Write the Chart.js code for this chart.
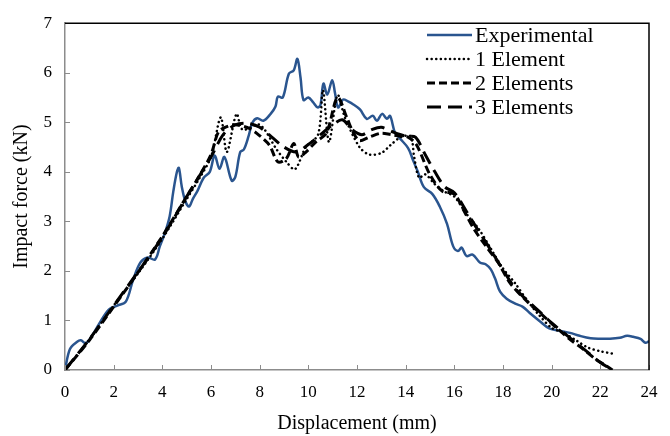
<!DOCTYPE html>
<html>
<head>
<meta charset="utf-8">
<script src="https://cdn.jsdelivr.net/npm/chart.js@4"></script>
<style>
  html, body { margin: 0; padding: 0; background: #fff; }
  #wrap { width: 670px; height: 436px; }
</style>
</head>
<body>
<div id="wrap"><canvas id="grafico"></canvas></div>
<script>
// displacement (mm) / impact force (kN)
const expX = [0,0.2,0.5,0.65,0.85,1.1,1.4,1.8,2.15,2.5,2.8,3.1,3.4,3.7,3.9,4.1,4.3,4.45,4.6,4.68,4.8,4.95,5.1,5.25,5.45,5.7,5.95,6.15,6.35,6.55,6.85,7.0,7.2,7.35,7.55,7.7,7.9,8.15,8.45,8.65,8.75,8.95,9.2,9.4,9.55,9.68,9.8,10.0,10.2,10.38,10.5,10.62,10.78,10.98,11.1,11.22,11.43,11.63,11.85,12.12,12.4,12.65,12.82,13.03,13.23,13.36,13.56,13.77,14.1,14.3,14.5,14.75,15.1,15.4,15.7,15.95,16.15,16.3,16.5,16.75,17.05,17.3,17.5,17.68,17.88,18.15,18.5,18.8,19.1,19.5,19.9,20.35,20.75,21.15,21.6,22.0,22.4,22.8,23.1,23.35,23.65,23.85,24];
const expY = [0,0.42,0.57,0.6,0.54,0.68,0.93,1.22,1.3,1.38,1.82,2.17,2.27,2.23,2.5,2.76,3.1,3.6,4.0,4.08,3.7,3.4,3.3,3.45,3.62,3.88,4.0,4.33,4.06,4.3,3.82,3.9,4.4,4.45,4.73,4.99,5.08,5.03,5.17,5.32,5.52,5.5,5.98,6.05,6.28,5.9,5.45,5.5,5.4,5.3,5.35,5.78,5.56,5.85,5.58,5.3,5.46,5.42,5.36,5.26,5.07,5.13,5.03,5.17,5.07,5.13,4.79,4.67,4.48,4.24,4.0,3.69,3.55,3.3,2.95,2.5,2.4,2.47,2.3,2.33,2.17,2.13,2.03,1.84,1.58,1.44,1.34,1.28,1.15,0.99,0.84,0.79,0.75,0.69,0.64,0.63,0.63,0.65,0.69,0.67,0.63,0.55,0.58];

const e1X = [0,1,2,3,4,5,5.5,6,6.4,6.65,7.05,7.3,8,8.7,9.1,9.45,9.9,10.4,10.6,10.85,11.2,11.5,12.1,12.5,13,13.4,13.8,14.2,14.35,14.55,14.8,15.2,15.6,16,16.5,17,17.5,18,18.5,19,19.5,20,20.5,21,21.5,22,22.5];
const e1Y = [0,0.62,1.3,1.95,2.65,3.45,3.85,4.3,5.1,4.4,5.17,4.85,4.95,4.45,4.2,4.05,4.5,4.75,5.65,4.6,5.55,5.1,4.5,4.35,4.38,4.55,4.7,4.72,4.3,3.88,3.95,3.75,3.6,3.5,3.15,2.85,2.45,2.05,1.75,1.4,1.1,0.85,0.75,0.6,0.45,0.38,0.33];

const e2X = [0,1,2,3,4,5,5.5,6,6.3,6.6,7,7.6,8,8.4,8.75,9.1,9.4,9.6,9.9,10.3,10.75,11.2,11.6,11.85,12.1,12.5,13,13.4,13.8,14.1,14.45,15,15.5,16,16.4,16.8,17.3,17.8,18.3,19,19.6,20.2,20.8,21.3,21.8,22.2,22.5];
const e2Y = [0,0.6,1.28,1.97,2.7,3.5,3.9,4.35,4.8,4.9,4.95,4.87,4.73,4.54,4.2,4.27,4.57,4.3,4.4,4.6,4.79,5.5,5.07,4.79,4.63,4.7,4.78,4.75,4.72,4.7,4.54,3.94,3.61,3.55,3.21,2.85,2.5,2.17,1.75,1.38,1.12,0.85,0.6,0.42,0.22,0.1,0.0];

const e3X = [0,1,2,3,4,5,6,6.5,7,7.5,8,8.5,9,9.5,10,10.5,11,11.4,11.8,12.2,12.6,13,13.5,14,14.4,14.8,15.2,15.6,16,16.5,17,17.5,18,18.5,19,19.5,20,20.5,21,21.5,22,22.5];
const e3Y = [0,0.62,1.3,1.98,2.68,3.5,4.3,4.75,4.95,4.98,4.9,4.7,4.5,4.4,4.55,4.75,4.95,5.05,4.85,4.75,4.85,4.9,4.8,4.72,4.7,4.35,4.0,3.7,3.58,3.2,2.8,2.42,2.02,1.65,1.4,1.18,0.95,0.75,0.55,0.35,0.15,0.0];

const nombres = ['Experimental', '1 Element', '2 Elements', '3 Elements'];
const xTicks = [0,2,4,6,8,10,12,14,16,18,20,22,24];
const yTicks = [0,1,2,3,4,5,6,7];

const fuente = '"Liberation Serif", "Times New Roman", serif';

function puntos(xs, ys) {
  return xs.map((x, i) => ({ x: x, y: ys[i] }));
}

// ticks hacia adentro, marco superior/derecho y leyenda dentro del area
const marco = {
  id: 'marco',
  afterDraw(chart) {
    const ctx = chart.ctx;
    const a = chart.chartArea;
    const sx = chart.scales.x, sy = chart.scales.y;
    ctx.save();
    ctx.strokeStyle = '#8c8c8c';
    ctx.lineWidth = 1;
    xTicks.forEach(t => {
      const px = Math.round(sx.getPixelForValue(t)) + 0.5;
      ctx.beginPath(); ctx.moveTo(px, a.bottom); ctx.lineTo(px, a.bottom - 5); ctx.stroke();
    });
    yTicks.forEach(t => {
      const py = Math.round(sy.getPixelForValue(t)) + 0.5;
      ctx.beginPath(); ctx.moveTo(a.left, py); ctx.lineTo(a.left + 5, py); ctx.stroke();
    });
    ctx.strokeStyle = '#000';
    ctx.lineWidth = 1.5;
    ctx.beginPath();
    ctx.moveTo(a.left, a.top);
    ctx.lineTo(a.right, a.top);
    ctx.lineTo(a.right, a.bottom);
    ctx.stroke();

    // leyenda
    const x0 = 427, x1 = 472;
    ctx.font = '22px ' + fuente;
    ctx.textBaseline = 'middle';
    chart.data.datasets.forEach((ds, i) => {
      const y = 35 + i * 24;
      ctx.strokeStyle = ds.borderColor;
      ctx.lineWidth = ds.borderWidth;
      ctx.lineCap = ds.borderCapStyle || 'butt';
      ctx.setLineDash(ds.borderDash || []);
      ctx.beginPath(); ctx.moveTo(x0, y); ctx.lineTo(x1, y); ctx.stroke();
      ctx.setLineDash([]);
      ctx.fillStyle = '#000';
      ctx.fillText(ds.label, x1 + 3, y + 1);
    });
    ctx.restore();
  }
};

const ctx = document.getElementById('grafico').getContext('2d');
new Chart(ctx, {
  type: 'line',
  data: {
    datasets: [
      {
        label: nombres[0],
        data: puntos(expX, expY),
        borderColor: '#2a558f',
        borderWidth: 2.5,
        tension: 0.35,
        order: 4
      },
      {
        label: nombres[1],
        data: puntos(e1X, e1Y),
        borderColor: '#000',
        borderWidth: 2.5,
        borderDash: [0.1, 4.5],
        borderCapStyle: 'round',
        tension: 0.3,
        order: 3
      },
      {
        label: nombres[2],
        data: puntos(e2X, e2Y),
        borderColor: '#000',
        borderWidth: 3,
        borderDash: [8, 4],
        tension: 0.3,
        order: 2
      },
      {
        label: nombres[3],
        data: puntos(e3X, e3Y),
        borderColor: '#000',
        borderWidth: 3,
        borderDash: [14, 7],
        tension: 0.3,
        order: 1
      }
    ]
  },
  options: {
    responsive: true,
    maintainAspectRatio: false,
    animation: false,
    elements: { point: { radius: 0 } },
    layout: { padding: { top: 15, right: 21, left: 0, bottom: 0 } },
    plugins: {
      legend: { display: false },
      tooltip: { enabled: false }
    },
    scales: {
      x: {
        type: 'linear',
        min: 0,
        max: 24,
        afterFit(scale) { scale.height = 66; },
        afterBuildTicks(scale) { scale.ticks = xTicks.map(v => ({ value: v })); },
        grid: { display: false, drawTicks: false },
        border: { color: '#8c8c8c', width: 1.5 },
        ticks: { color: '#000', padding: 12, font: { family: fuente, size: 17 } },
        title: {
          display: true,
          text: 'Displacement (mm)',
          color: '#000',
          padding: { top: 0, bottom: 0 },
          font: { family: fuente, size: 20 }
        }
      },
      y: {
        min: 0,
        max: 7,
        afterFit(scale) { scale.width = 65; },
        afterBuildTicks(scale) { scale.ticks = yTicks.map(v => ({ value: v })); },
        grid: { display: false, drawTicks: false },
        border: { color: '#8c8c8c', width: 1.5 },
        ticks: { color: '#000', padding: 13, font: { family: fuente, size: 17 } },
        title: {
          display: true,
          text: 'Impact force (kN)',
          color: '#000',
          padding: { top: 10, bottom: 0 },
          font: { family: fuente, size: 20 }
        }
      }
    }
  },
  plugins: [marco]
});
</script>
</body>
</html>
